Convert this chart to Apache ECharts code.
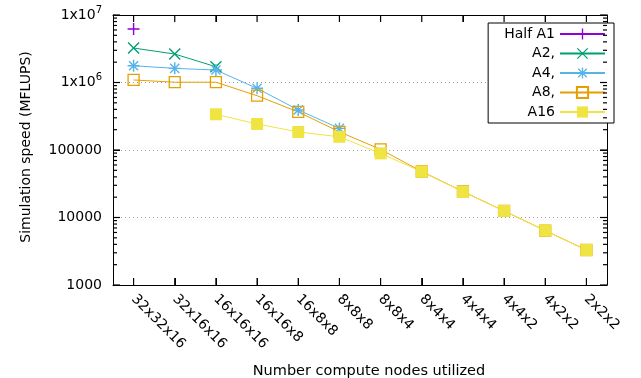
<!DOCTYPE html>
<html>
<head>
<meta charset="utf-8">
<style>
    html, body { margin: 0; padding: 0; background: #fff; }
    #chart { width: 641px; height: 378px; }
</style>
<script src="https://cdn.jsdelivr.net/npm/echarts@6.0.0/dist/echarts.min.js"></script>
</head>
<body>
<div id="chart"></div>
<script>
    // categories along x (compute node layouts)
    var nodes = ['32x32x16', '32x16x16', '16x16x16', '16x16x8', '16x8x8', '8x8x8',
        '8x8x4', '8x4x4', '4x4x4', '4x4x2', '4x2x2', '2x2x2'];
    // simulation speed (MFLUPS), null = not measured
    var halfA1 = [6.2e6, null, null, null, null, null, null, null, null, null, null, null];
    var a2 = [3.24e6, 2.64e6, 1.71e6, null, null, null, null, null, null, null, null, null];
    var a4 = [1.77e6, 1.62e6, 1.53e6, 8.2e5, 3.92e5, 2.09e5, null, null, null, null, null, null];
    var a8 = [1.09e6, 1.01e6, 1.01e6, 6.37e5, 3.66e5, 1.86e5, 1.02e5, 4.8e4, 2.43e4, 1.25e4, 6.4e3, 3.3e3];
    var a16 = [null, null, 3.38e5, 2.43e5, 1.85e5, 1.57e5, 8.9e4, 4.77e4, 2.41e4, 1.25e4, 6.4e3, 3.3e3];
    // y ticks
    var yMin = 1000, yMax = 1e7;
    var majorTicks = [1e3, 1e4, 1e5, 1e6, 1e7];
    var minorTicks = [];
    [1e3, 1e4, 1e5, 1e6].forEach(function (d) {
        for (var k = 2; k <= 9; k++) minorTicks.push(d * k);
    });

    var font = 'DejaVu Sans';
    var plusPath = 'path://M4.4,0h1.2v10h-1.2z M0,4.4h10v1.2h-10z';
    var crossPath = 'path://M0,0.8L0.8,0L10,9.2L9.2,10Z M9.2,0L10,0.8L0.8,10L0,9.2Z';
    var starPath = 'path://M4.4,0h1.2v10h-1.2z M0,4.4h10v1.2h-10z M0.8,1.6L1.6,0.8L9.2,8.4L8.4,9.2Z M8.4,0.8L9.2,1.6L1.6,9.2L0.8,8.4Z';

    var myChart = echarts.init(document.getElementById('chart'));

    function yLabel(v) {
        var e = Math.round(Math.log10(v));
        if (e >= 6) return '{m|1x10}{sup|' + e + '}';
        return '{m|' + Math.round(v) + '}';
    }

    function lineSeries(name, data, color, symbol, size, open) {
        return {
            name: name,
            type: 'line',
            data: data,
            symbol: symbol,
            symbolSize: size,
            showAllSymbol: true,
            connectNulls: false,
            lineStyle: { color: color, width: 1 },
            itemStyle: {
                color: open ? 'rgba(0,0,0,0)' : color,
                borderColor: color,
                borderWidth: open ? 1.3 : 0
            },
            emphasis: { disabled: true }
        };
    }

    function tickLine(x1, y1, x2, y2) {
        return {
            type: 'line',
            shape: { x1: x1, y1: y1, x2: x2, y2: y2 },
            style: { stroke: '#000', lineWidth: 1.2, fill: null }
        };
    }

    // tick marks on all four sides of the frame, placed by the axes' scales
    var xTickSeries = {
        type: 'custom',
        clip: false,
        z: 5,
        data: nodes.map(function (n, i) { return [i, yMin]; }),
        renderItem: function (params, api) {
            var b = api.coord([api.value(0), yMin]);
            var t = api.coord([api.value(0), yMax]);
            return {
                type: 'group',
                children: [tickLine(b[0], b[1], b[0], b[1] - 7), tickLine(t[0], t[1], t[0], t[1] + 7)]
            };
        }
    };

    function yTickSeries(values, len) {
        return {
            type: 'custom',
            clip: false,
            z: 5,
            data: values.map(function (v) { return [0, v]; }),
            renderItem: function (params, api) {
                var p = api.coord([0, api.value(1)]);
                var cs = params.coordSys;
                return {
                    type: 'group',
                    children: [tickLine(cs.x, p[1], cs.x + len, p[1]),
                        tickLine(cs.x + cs.width - len, p[1], cs.x + cs.width, p[1])]
                };
            }
        };
    }

    var axisTick = function (len) {
        return { show: true, inside: true, length: len, lineStyle: { color: '#000', width: 1 } };
    };

    var option = {
        animation: false,
        grid: { left: 113, right: 34, top: 15, bottom: 93, outerBoundsMode: 'none', containLabel: false },
        legend: {
            right: 27,
            top: 23,
            orient: 'vertical',
            align: 'right',
            itemWidth: 45,
            itemHeight: 14,
            itemGap: 5.5,
            padding: [4, 8, 4, 16],
            backgroundColor: '#fff',
            borderColor: '#000',
            borderWidth: 1,
            borderRadius: 0,
            textStyle: { fontFamily: font, fontSize: 14, color: '#000' },
            data: ['Half A1', 'A2,', 'A4,', 'A8,', 'A16']
        },
        xAxis: [{
            type: 'category',
            data: nodes,
            position: 'bottom',
            name: 'Number compute nodes utilized',
            nameLocation: 'middle',
            nameGap: 79,
            nameTextStyle: { fontFamily: font, fontSize: 14.5, color: '#000', padding: [0, 0, 0, 18] },
            axisLine: { show: true, lineStyle: { color: '#000', width: 1 } },
            axisTick: Object.assign(axisTick(7), { alignWithLabel: true }),
            axisLabel: { rotate: -45, interval: 0, margin: 12, fontFamily: font, fontSize: 14, color: '#000' },
            splitLine: { show: false }
        }, {
            type: 'category',
            data: nodes,
            position: 'top',
            axisLine: { show: true, lineStyle: { color: '#000', width: 1 } },
            axisTick: Object.assign(axisTick(7), { alignWithLabel: true }),
            axisLabel: { show: false },
            splitLine: { show: false }
        }],
        yAxis: [{
            type: 'log',
            logBase: 10,
            min: yMin,
            max: yMax,
            position: 'left',
            name: 'Simulation speed (MFLUPS)',
            nameLocation: 'middle',
            nameGap: 80,
            nameTextStyle: { fontFamily: font, fontSize: 14, color: '#000', padding: [0, 0, 0, 6] },
            axisLine: { show: true, lineStyle: { color: '#000', width: 1 } },
            axisTick: axisTick(7),
            axisLabel: {
                margin: 11,
                formatter: yLabel,
                rich: {
                    m: { fontFamily: font, fontSize: 14, color: '#000' },
                    sup: { fontFamily: font, fontSize: 10, color: '#000', padding: [0, 0, 10, 0] }
                }
            },
            splitLine: { show: true, lineStyle: { color: '#a0a0a0', width: 1, type: [1, 3] } }
        }, {
            type: 'log',
            logBase: 10,
            min: yMin,
            max: yMax,
            position: 'right',
            axisLine: { show: true, lineStyle: { color: '#000', width: 1 } },
            axisTick: axisTick(7),
            axisLabel: { show: false },
            splitLine: { show: false }
        }],
        series: [
            lineSeries('Half A1', halfA1, '#9400d3', plusPath, 12, false),
            lineSeries('A2,', a2, '#009e73', crossPath, 12, false),
            lineSeries('A4,', a4, '#56b4e9', starPath, 12, false),
            lineSeries('A8,', a8, '#e69f00', 'rect', 11, true),
            lineSeries('A16', a16, '#f0e442', 'rect', 12, false),
            xTickSeries,
            yTickSeries(majorTicks, 7),
            yTickSeries(minorTicks, 4)
        ]
    };
    myChart.setOption(option);
</script>
</body>
</html>
